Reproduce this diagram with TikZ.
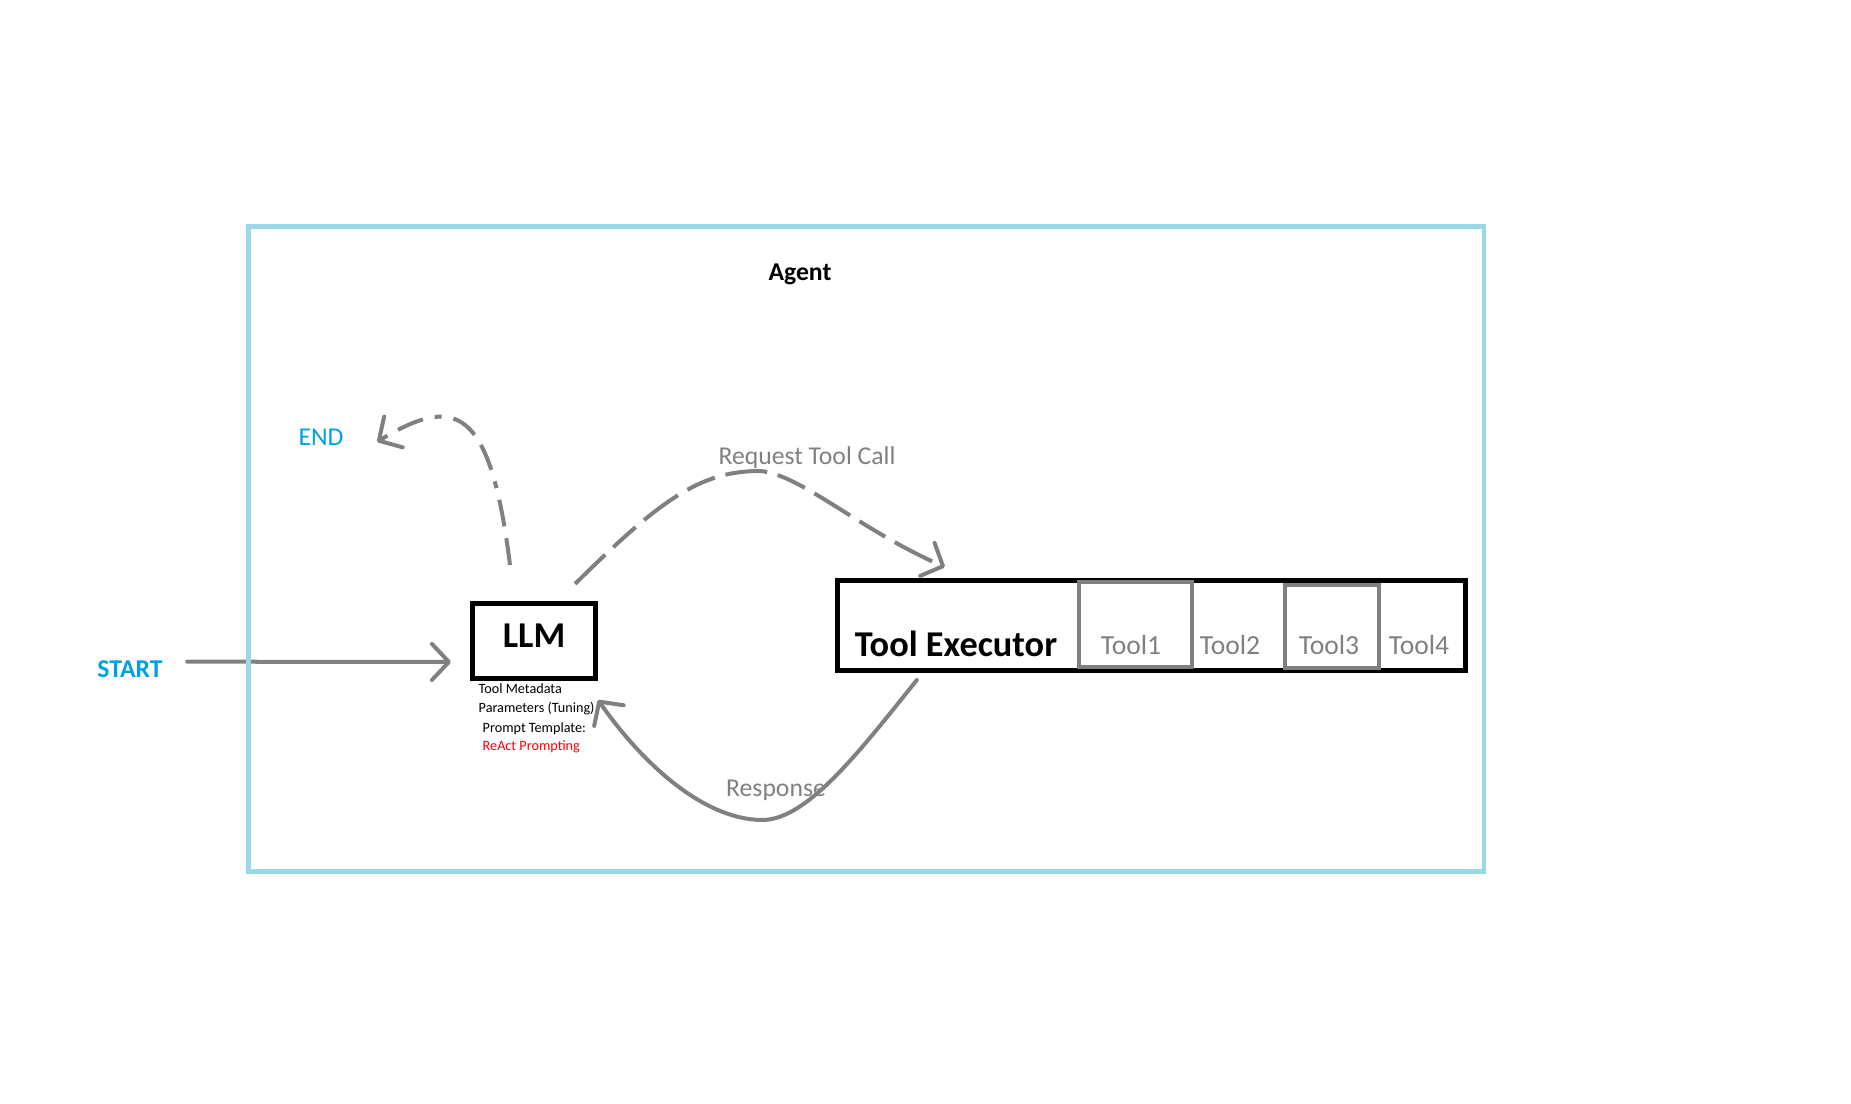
\documentclass[tikz,border=0pt]{standalone}
\usepackage{fontspec}
\setmainfont{Carlito}
\usepackage{xcolor}
\usepackage{tikz}
\usetikzlibrary{shapes,arrows.meta}
\definecolor{framecol}{RGB}{152,216,232}
\definecolor{signalblue}{RGB}{0,160,226}
\definecolor{linegray}{RGB}{128,128,128}
\definecolor{notered}{RGB}{255,0,0}
\newcommand{\agentsize}{\fontsize{7.3}{8.8}\selectfont}
\newcommand{\boxsize}{\fontsize{10.33}{12.4}\selectfont}
\newcommand{\toolsize}{\fontsize{7.85}{9.4}\selectfont}
\newcommand{\notesize}{\fontsize{4.04}{4.9}\selectfont}
\tikzstyle{agentframe} = [draw=framecol, line width=0.047cm]
\tikzstyle{block} = [rectangle, draw, line width=0.05cm, inner sep=0pt]
\tikzstyle{toolbox} = [rectangle, draw=linegray, line width=0.04cm, inner sep=0pt]
\tikzstyle{plaintext} = [inner sep=0pt, anchor=base, font=\agentsize]
\tikzstyle{notetext} = [inner sep=0pt, anchor=base west, font=\notesize]
\tikzstyle{arrow} = [draw=linegray, line width=0.04cm, line cap=round,
    -{Straight Barb[round, length=0.17cm, width=0.36cm]}]
\tikzstyle{dasharrow} = [arrow, line cap=butt,
    dash pattern=on 0.42cm off 0.11cm on 0.3cm off 0.11cm]
\begin{document}
\begin{tikzpicture}[x=0.01cm, y=-0.01cm]
	\useasboundingbox (0,0) rectangle (1851,1104);
	% Place nodes
	\node [plaintext, font=\agentsize\bfseries] (agent) at (800,281) {Agent};
	\node [plaintext, font=\agentsize\bfseries, text=signalblue] (startlabel) at (130,678) {START};
	\node [plaintext, text=signalblue] (endlabel) at (321,446) {END};
	\node [block, minimum width=1.23cm, minimum height=0.75cm, text depth=0.11cm, font=\boxsize\bfseries] (llm) at (534,641) {LLM};
	\node [notetext] (metadata) at (478,694) {Tool Metadata};
	\node [notetext] (parameters) at (478,713) {Parameters (Tuning)};
	\node [notetext] (template) at (482,733) {Prompt Template:};
	\node [notetext, text=notered] (react) at (482,751) {ReAct Prompting};
	
	\node [block, minimum width=6.28cm, minimum height=0.9cm] (executor) at (1151.5,625.5) {};
	\node [plaintext, font=\boxsize\bfseries] (executorname) at (956,657) {Tool Executor};
	\node [toolbox, minimum width=1.13cm, minimum height=0.85cm] (toolbox1) at (1135.5,624.5) {};
	\node [toolbox, minimum width=0.94cm, minimum height=0.83cm] (toolbox3) at (1332,626.5) {};
	\node [plaintext, font=\toolsize, text=linegray] (tool1) at (1131,655) {Tool1};
	\node [plaintext, font=\toolsize, text=linegray] (tool2) at (1230,655) {Tool2};
	\node [plaintext, font=\toolsize, text=linegray] (tool3) at (1329,655) {Tool3};
	\node [plaintext, font=\toolsize, text=linegray] (tool4) at (1419,655) {Tool4};
	
	\node [plaintext, text=linegray] (requestlabel) at (807,465) {Request Tool Call};
	\node [plaintext, text=linegray] (responselabel) at (776,797) {Response};
	\coordinate (requesttop) at (760,471);
	\coordinate (responsebottom) at (760,820);
	
	\path [arrow] ([shift={(24,-8)}]startlabel.east) -- ([shift={(-19,21)}]llm.west);
	\path [dasharrow, dash pattern=on 0.27cm off 0.12cm on 0.27cm off 0.12cm on 0.07cm off 0.12cm] ([shift={(-24,-36)}]llm.north) .. controls +(-20,-160) and +(78,-47) .. ([shift={(33,4)}]endlabel.east);
	\path [dasharrow] ([shift={(-23,-17)}]llm.north east) .. controls +(85,-84) and +(-60,0) .. (requesttop) .. controls +(40,3) and +(-85,-37) .. ([shift={(110,-11)}]executor.north west);
	\path [arrow] ([shift={(82,7)}]executor.south west) .. controls +(-60,75) and +(45,2) .. (responsebottom) .. controls +(-60,-2) and +(42,60) .. ([shift={(0,19)}]llm.south east);
	
	\draw [agentframe] (248.3,226.5) rectangle (1484,871.5);
\end{tikzpicture}
\end{document}
